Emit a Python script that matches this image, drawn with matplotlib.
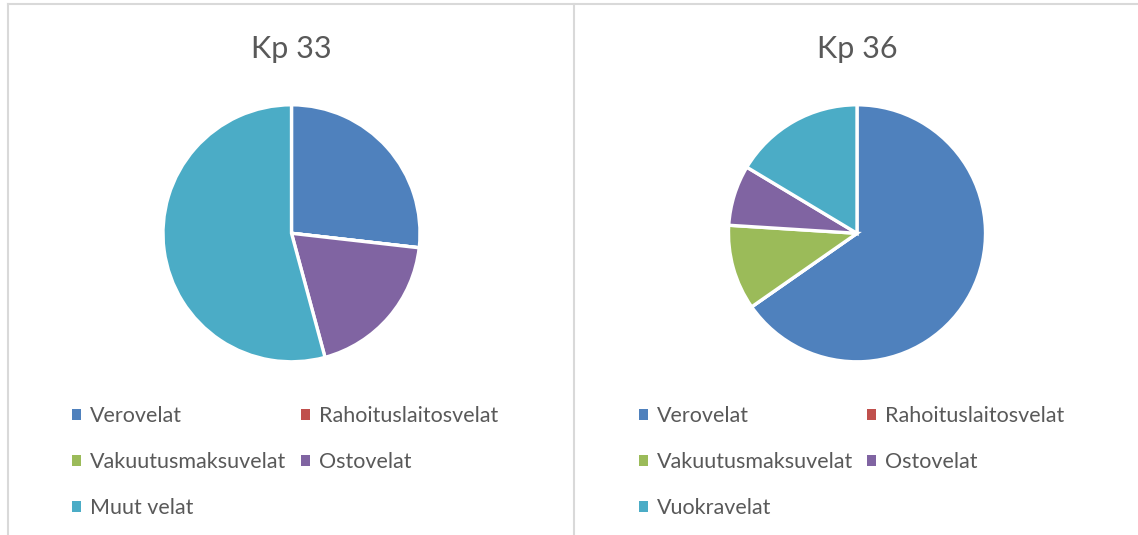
import matplotlib
matplotlib.use("Agg")
import matplotlib.pyplot as plt
from matplotlib.lines import Line2D

categories_left = ["Verovelat", "Rahoituslaitosvelat", "Vakuutusmaksuvelat", "Ostovelat", "Muut velat"]
values_left = [26.8, 0.0, 0.0, 19.0, 54.2]
categories_right = ["Verovelat", "Rahoituslaitosvelat", "Vakuutusmaksuvelat", "Ostovelat", "Vuokravelat"]
values_right = [65.3, 0.0, 10.7, 7.6, 16.4]
titles = ["Kp 33", "Kp 36"]
colors = ["#4F81BD", "#C0504D", "#9BBB59", "#8064A2", "#4BACC6"]

plt.rcParams['font.family'] = ['Lato', 'DejaVu Sans']
TEXT = "#595959"
W, H = 1138, 535
fig = plt.figure(figsize=(W / 100, H / 100), dpi=100)

# panel borders
border = "#D9D9D9"
for xs, ys in [([8, 8], [4, 535]), ([573.5, 573.5], [4, 535]), ([8, 1138], [4, 4])]:
    fig.add_artist(Line2D([x / W for x in xs], [1 - y / H for y in ys], color=border, lw=1.5))

centers = [(291.5, 233.3), (857, 233.3)]
R = 128.5
panels = [(values_left, categories_left), (values_right, categories_right)]
legend_x = [72.3, 638.6]
for (cx, cy), (vals, cats), title, lx in zip(centers, panels, titles, legend_x):
    ax = fig.add_axes([(cx - R) / W, 1 - (cy + R) / H, 2 * R / W, 2 * R / H])
    wedges, _ = ax.pie(vals, colors=colors, startangle=90, counterclock=False,
                       wedgeprops=dict(edgecolor="white", linewidth=2.4))
    ax.set_xlim(-1.0, 1.0)
    ax.set_ylim(-1.0, 1.0)
    ax.axis("off")
    fig.text(cx / W, 1 - 58.3 / H, title, ha="center", va="baseline", fontsize=22, color=TEXT)
    order = [0, 2, 4, 1, 3]
    leg = fig.legend([wedges[i] for i in order], [cats[i] for i in order], ncol=2,
                     loc="upper left", bbox_to_anchor=(lx / W, 1 - 406.5 / H),
                     frameon=False, fontsize=15.5, labelcolor=TEXT,
                     handlelength=0.42, handleheight=0.42, handletextpad=0.42,
                     labelspacing=1.2, columnspacing=0.65, borderpad=0, borderaxespad=0)
    for h in leg.legend_handles:
        h.set_edgecolor("none")

fig.savefig("out.png", dpi=100, facecolor="white")
